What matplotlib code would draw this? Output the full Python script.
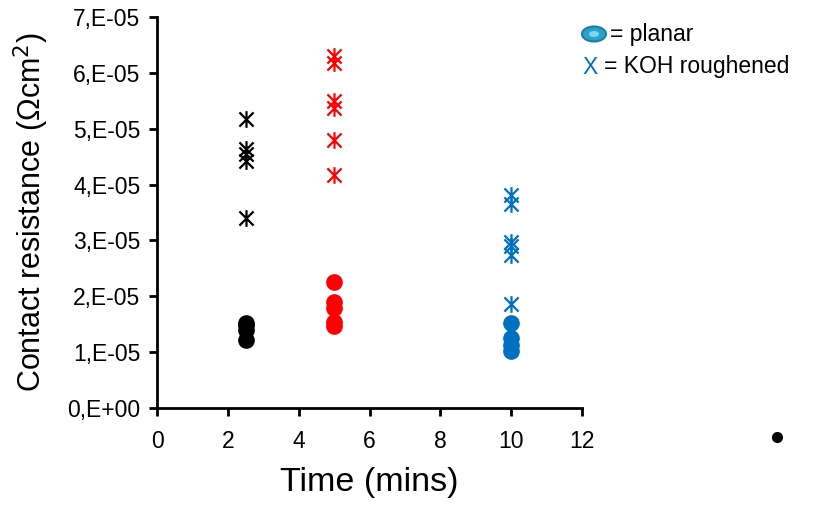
import matplotlib.pyplot as plt
from matplotlib.path import Path
from matplotlib.patches import Ellipse
from matplotlib.ticker import FuncFormatter, MultipleLocator

plt.rcParams['font.family'] = ['Liberation Sans', 'DejaVu Sans']

# contact resistance in units of 1E-5 Ohm cm^2
times = [2.5, 5, 10]
colors = ['black', '#FF0000', '#0070C0']
planar = [
    [1.22, 1.40, 1.48, 1.53],
    [2.26, 1.90, 1.79, 1.54, 1.47],
    [1.52, 1.25, 1.12, 1.02],
]
koh = [
    [5.17, 4.63, 4.55, 4.42, 3.41],
    [6.30, 6.18, 5.50, 5.37, 4.80, 4.17],
    [3.82, 3.66, 2.97, 2.90, 2.74, 1.86],
]

# Excel-style star: vertical bar plus an X
star = Path(
    [(0, -1), (0, 1), (-0.85, -0.85), (0.85, 0.85), (-0.85, 0.85), (0.85, -0.85)],
    [Path.MOVETO, Path.LINETO] * 3,
)

fig = plt.figure(figsize=(8.23, 5.05), dpi=100)
ax = fig.add_axes([157 / 823, 1 - 408 / 505, 425 / 823, 391 / 505])

for t, c, p, k in zip(times, colors, planar, koh):
    ax.plot([t] * len(k), [v * 1e-5 for v in k], linestyle='none', marker=star,
            markersize=12, markeredgecolor=c, markeredgewidth=1.6, markerfacecolor='none')
    ax.plot([t] * len(p), [v * 1e-5 for v in p], linestyle='none', marker='o',
            markersize=11, color=c)

ax.set_xlim(0, 12)
ax.set_ylim(0, 7e-5)
ax.xaxis.set_major_locator(MultipleLocator(2))
ax.yaxis.set_major_locator(MultipleLocator(1e-5))


def sci_fmt(v, pos):
    n = int(round(v * 1e5))
    return '0,E+00' if n == 0 else f'{n},E-05'


ax.yaxis.set_major_formatter(FuncFormatter(sci_fmt))
for s in ['top', 'right']:
    ax.spines[s].set_visible(False)
for s in ['left', 'bottom']:
    ax.spines[s].set_linewidth(2)
ax.tick_params(direction='out', length=6, width=2, labelsize=16.5)
ax.tick_params(axis='x', pad=10)
ax.tick_params(axis='y', pad=6)

ax.set_xlabel('Time (mins)', fontsize=24.5, labelpad=10)
ax.set_ylabel('Contact resistance (Ωcm$^2$)', fontsize=22, labelpad=12)

# key drawn as free text at the upper right
fig.patches.append(Ellipse((594 / 823, 1 - 34 / 505), 24 / 823, 15 / 505,
                           transform=fig.transFigure, facecolor='#29A3C8',
                           edgecolor='#1C7FA0', linewidth=1.5))
fig.patches.append(Ellipse((594 / 823, 1 - 34 / 505), 10 / 823, 6 / 505,
                           transform=fig.transFigure, facecolor='#7FD3EA',
                           edgecolor='none'))
fig.text(610 / 823, 1 - 34 / 505, '= planar', fontsize=16.5, va='center', ha='left')
fig.text(582 / 823, 1 - 67 / 505, 'X', fontsize=16.5, va='center', ha='left',
         color='#0070C0')
fig.text(604 / 823, 1 - 67 / 505, '= KOH roughened', fontsize=16.5, va='center',
         ha='left')

# stray point to the right of the axes
fig.lines.append(plt.Line2D([777 / 823], [1 - 437 / 505], transform=fig.transFigure,
                            marker='o', markersize=7, color='black', linestyle='none'))

fig.savefig('out.png', dpi=100)
